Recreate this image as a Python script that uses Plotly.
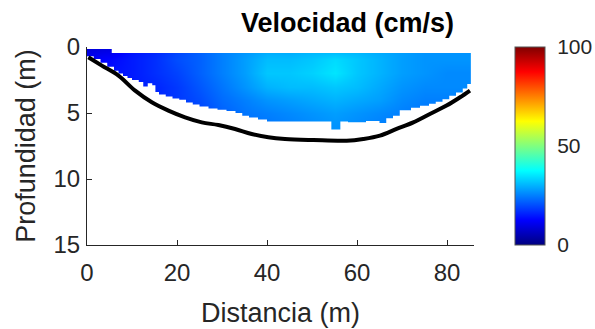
import plotly.graph_objects as go

# ---- data ----
dist = [0, 5, 10, 15, 20, 25, 30, 35, 40, 45, 50, 55, 60, 65, 70, 75, 80, 85]
depth = [0.25, 1, 2, 3, 4, 5, 6, 7]
vel = [
    [9, 10, 14, 16, 19, 22, 25, 27, 29, 29, 30, 30, 30, 29, 28, 27, 27, 27],
    [12, 13, 15, 17, 20, 22, 25, 28, 31, 31, 32, 34, 32, 30, 28, 27, 27, 27],
    [13, 14, 15, 17, 19, 22, 25, 28, 32, 32, 33, 35, 32, 30, 28, 27, 26, 26],
    [14, 14, 15, 16, 18, 21, 24, 27, 30, 31, 31, 32, 31, 29, 27, 26, 26, 26],
    [14, 14, 15, 16, 18, 20, 23, 25, 27, 28, 29, 30, 29, 28, 26, 25, 25, 25],
    [14, 14, 15, 16, 17, 19, 22, 24, 25, 26, 27, 28, 27, 26, 25, 24, 24, 24],
    [13, 13, 14, 15, 16, 18, 21, 23, 24, 25, 26, 27, 26, 25, 24, 23, 23, 23],
    [13, 13, 14, 15, 16, 18, 21, 23, 24, 25, 26, 27, 26, 25, 24, 23, 23, 23],
]

# top of measured data (distance, depth)
top_x = [-2, 5.5, 5.5, 90, 90, -2]
top_d = [0.15, 0.15, 0.45, 0.45, -1, -1]

# bottom of measured data (stepped), distance start / depth
bnd_x = [-2, 1.5, 3, 4.5, 6, 7, 8, 9, 10, 11.5, 12.5, 13.5, 14.5, 15.2, 16, 17.5,
         19, 20.5, 22, 23.5, 25, 27, 29, 31, 33, 34.5, 36, 38, 40, 54.3, 56.3, 58,
         62, 65, 66.5, 68, 69.5, 72, 74, 76, 77.5, 79, 80.5, 82, 83.5, 84.5, 85.3,
         85.3, 90, 90, -2]
bnd_d = [0.7, 0.9, 1.2, 1.5, 1.8, 2.0, 2.2, 2.35, 2.5, 2.65, 3.0, 2.75, 2.9, 3.4,
         3.6, 3.75, 3.9, 4.0, 4.2, 4.35, 4.5, 4.65, 4.75, 4.85, 5.0, 5.2, 5.35, 5.5,
         5.65, 6.25, 5.65, 5.7, 5.6, 5.75, 5.4, 5.2, 4.8, 4.6, 4.45, 4.3, 4.15, 3.95,
         3.7, 3.45, 3.15, 2.8, 2.8, 0.4, 0.4, 16, 16]

# river bed line
bed_x = [0.3, 3.3, 7.0, 10.7, 14.4, 18.1, 21.8, 25.5, 29.2, 32.9, 36.6, 40.3, 44,
         50.3, 57.7, 61.4, 65.1, 68.8, 72.5, 76.2, 79.9, 82.9, 85.1]
bed_d = [0.78, 1.41, 2.17, 3.31, 4.19, 4.82, 5.33, 5.71, 5.91, 6.21, 6.59, 6.84, 6.97,
         7.05, 7.1, 6.97, 6.72, 6.21, 5.71, 5.07, 4.44, 3.81, 3.3]

x_ticks = [0, 20, 40, 60, 80]
y_ticks = [0, 5, 10, 15]
cb_ticks = [0, 50, 100]

jet = [[0, 'rgb(0,0,128)'], [0.125, 'rgb(0,0,255)'], [0.375, 'rgb(0,255,255)'],
       [0.625, 'rgb(255,255,0)'], [0.875, 'rgb(255,0,0)'], [1, 'rgb(128,0,0)']]

FONT = "Liberation Sans, Arial, sans-serif"
TXT = "#262626"

fig = go.Figure()
fig.add_trace(go.Heatmap(
    x=dist, y=depth, z=vel, zmin=0, zmax=100, zsmooth='best', colorscale=jet,
    colorbar=dict(
        x=(515 - 87) / 387, xanchor='left', xpad=0, ypad=0,
        y=0.5, yanchor='middle', lenmode='fraction', len=1.0,
        thickness=30, outlinewidth=1, outlinecolor='#555555',
        tickvals=cb_ticks, ticks='outside', ticklen=8, tickcolor='rgba(0,0,0,0)',
        tickfont=dict(family=FONT, size=21, color=TXT),
    ),
    hoverinfo='skip'))
fig.add_trace(go.Scatter(x=top_x, y=top_d, mode='lines', fill='toself',
                         fillcolor='white', line=dict(width=0, color='white'),
                         hoverinfo='skip', showlegend=False))
fig.add_trace(go.Scatter(x=bnd_x, y=bnd_d, mode='lines', fill='toself',
                         line_shape='hv',
                         fillcolor='white', line=dict(width=0, color='white'),
                         hoverinfo='skip', showlegend=False))
fig.add_trace(go.Scatter(x=bed_x, y=bed_d, mode='lines', line_shape='spline',
                         line=dict(color='black', width=4), hoverinfo='skip',
                         showlegend=False))

axis_common = dict(showline=True, linecolor=TXT, linewidth=1, ticks='inside',
                   ticklen=5, tickcolor=TXT, showgrid=False, zeroline=False,
                   automargin=False,
                   tickfont=dict(family=FONT, size=24, color=TXT),
                   title_font=dict(family=FONT, size=27, color=TXT))

fig.update_xaxes(range=[0, 86], tickvals=x_ticks, title_text='Distancia (m)',
                 ticklabelstandoff=6, title_standoff=18, **axis_common)
fig.update_yaxes(range=[15, 0], tickvals=y_ticks, title_text='Profundidad (m)',
                 ticklabelstandoff=1, title_standoff=10, **axis_common)

fig.add_annotation(text='<b>Velocidad (cm/s)</b>', xref='paper', yref='paper',
                   x=(347 - 87) / 387, y=(245 - 23) / 198, xanchor='center',
                   yanchor='middle', showarrow=False,
                   font=dict(family=FONT, size=27, color='black'))

fig.update_layout(width=595, height=329,
                  margin=dict(l=87, r=121, t=47, b=84, autoexpand=False),
                  plot_bgcolor='white', paper_bgcolor='white', showlegend=False)

fig.write_html("out.html", config={'displayModeBar': False},
               post_script="document.body.style.margin='0';document.body.style.overflow='hidden';")
